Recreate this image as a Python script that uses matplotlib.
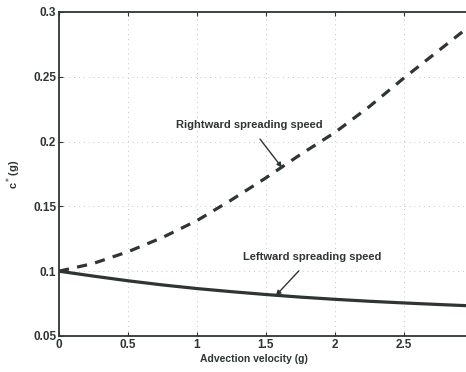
import numpy as np
import matplotlib.pyplot as plt

# spreading speeds against advection velocity
g = [0, 0.25, 0.5, 0.75, 1.0, 1.25, 1.5, 1.75, 2.0, 2.25, 2.5, 2.75, 3.0]
c_right = [0.100, 0.106, 0.115, 0.126, 0.139, 0.155, 0.172, 0.190, 0.207, 0.227, 0.249, 0.270, 0.291]
c_left = [0.100, 0.0962, 0.0926, 0.0894, 0.0866, 0.0842, 0.0820, 0.0800, 0.0783, 0.0768, 0.0755, 0.0743, 0.0732]

xticks = [0, 0.5, 1, 1.5, 2, 2.5]
yticks = [0.05, 0.1, 0.15, 0.2, 0.25, 0.3]

ink = "#2e3532"
plt.rcParams['font.family'] = ['Liberation Sans', 'DejaVu Sans']

fig = plt.figure(figsize=(4.66, 3.72), dpi=100)
ax = fig.add_axes([0.1266, 0.0968, 0.888, 0.871])

ax.plot(g, c_right, color=ink, lw=2.3, linestyle=(0, (3.2, 2.6)))
ax.plot(g, c_left, color=ink, lw=2.3)

ax.set_xlim(0, 3)
ax.set_ylim(0.05, 0.3)
ax.set_xticks(xticks)
ax.set_xticklabels(["0", "0.5", "1", "1.5", "2", "2.5"])
ax.set_yticks(yticks)
ax.set_yticklabels(["0.05", "0.1", "0.15", "0.2", "0.25", "0.3"])
ax.tick_params(direction="in", length=3, width=0.8, colors=ink, labelsize=8.5,
               top=True, right=True, pad=2)
for lab in ax.get_xticklabels() + ax.get_yticklabels():
    lab.set_fontweight("bold")
for sp in ax.spines.values():
    sp.set_color(ink)
    sp.set_linewidth(1.3)

ax.grid(True, linestyle=(0, (1, 4)), color="#c4c8c5", lw=0.7)

ax.set_xlabel("Advection velocity (g)", fontsize=7.5, fontweight="bold", color=ink,
              labelpad=2, x=0.47)
ax.set_ylabel("c$^*$(g)", fontsize=8, fontweight="bold", color=ink, labelpad=7)

ax.annotate("Rightward spreading speed", xy=(1.616, 0.18), xytext=(1.377, 0.213),
            fontsize=8, fontweight="bold", color=ink, ha="center", va="center",
            arrowprops=dict(arrowstyle="-|>", color=ink, lw=1.0, shrinkA=6, shrinkB=0,
                            mutation_scale=7))
ax.annotate("Leftward spreading speed", xy=(1.572, 0.0812), xytext=(1.833, 0.111),
            fontsize=8, fontweight="bold", color=ink, ha="center", va="center",
            arrowprops=dict(arrowstyle="-|>", color=ink, lw=1.0, shrinkA=6, shrinkB=0,
                            mutation_scale=7))

fig.savefig("out.png", dpi=100)
